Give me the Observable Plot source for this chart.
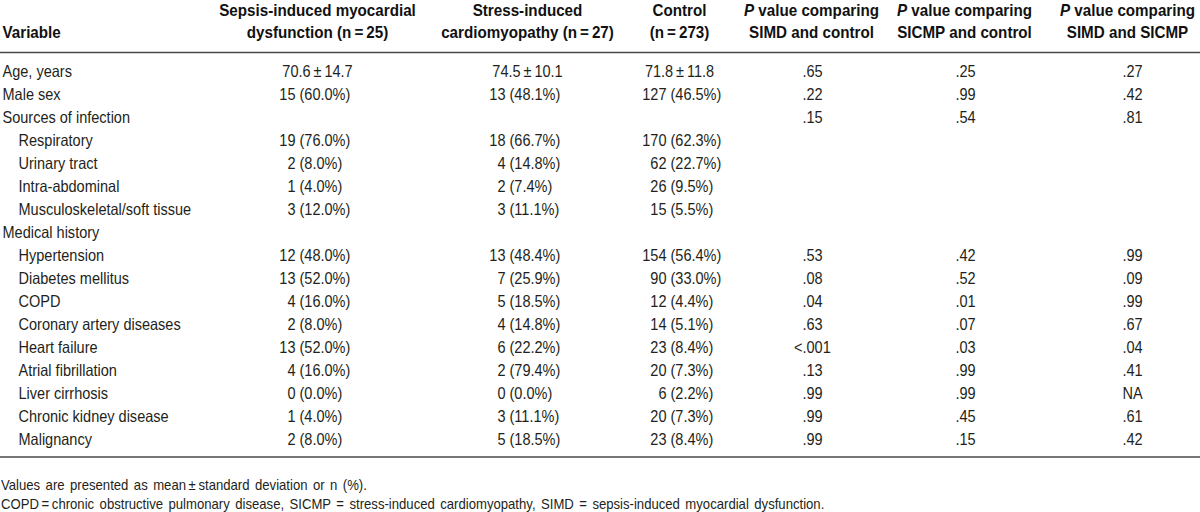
<!DOCTYPE html>
<html>
<head>
<meta charset="utf-8">
<script src="https://cdn.jsdelivr.net/npm/d3@7"></script>
<script src="https://cdn.jsdelivr.net/npm/@observablehq/plot@0.6"></script>
<style>
  html, body { margin: 0; padding: 0; background: #fff; }
  body { width: 1200px; height: 512px; overflow: hidden; }
  #chart svg { display: block; }
  .foot { font-family: "Liberation Sans", Arial, sans-serif; font-size: 14.5px; color: #231f20;
          margin-left: 1px; line-height: 19px; word-spacing: 2px; white-space: nowrap;
          transform: scaleX(0.905); transform-origin: 0 0; }
  #foot1 { margin-top: 4px; }
</style>
</head>
<body>
<div id="chart"></div>
<div class="foot" id="foot1"></div>
<div class="foot" id="foot2"></div>
<script>
// ---------- data ----------
const variables = ["Age, years", "Male sex", "Sources of infection", "Respiratory", "Urinary tract",
  "Intra-abdominal", "Musculoskeletal/soft tissue", "Medical history", "Hypertension",
  "Diabetes mellitus", "COPD", "Coronary artery diseases", "Heart failure", "Atrial fibrillation",
  "Liver cirrhosis", "Chronic kidney disease", "Malignancy"];
const indented = [0, 0, 0, 1, 1, 1, 1, 0, 1, 1, 1, 1, 1, 1, 1, 1, 1];
const simd = ["70.6\u2009±\u200914.7", "15 (60.0%)", "", "19 (76.0%)", "2 (8.0%)", "1 (4.0%)", "3 (12.0%)", "",
  "12 (48.0%)", "13 (52.0%)", "4 (16.0%)", "2 (8.0%)", "13 (52.0%)", "4 (16.0%)", "0 (0.0%)", "1 (4.0%)", "2 (8.0%)"];
const sicmp = ["74.5\u2009±\u200910.1", "13 (48.1%)", "", "18 (66.7%)", "4 (14.8%)", "2 (7.4%)", "3 (11.1%)", "",
  "13 (48.4%)", "7 (25.9%)", "5 (18.5%)", "4 (14.8%)", "6 (22.2%)", "2 (79.4%)", "0 (0.0%)", "3 (11.1%)", "5 (18.5%)"];
const control = ["71.8\u2009±\u200911.8", "127 (46.5%)", "", "170 (62.3%)", "62 (22.7%)", "26 (9.5%)", "15 (5.5%)", "",
  "154 (56.4%)", "90 (33.0%)", "12 (4.4%)", "14 (5.1%)", "23 (8.4%)", "20 (7.3%)", "6 (2.2%)", "20 (7.3%)", "23 (8.4%)"];
const pSimdControl = [".65", ".22", ".15", "", "", "", "", "", ".53", ".08", ".04", ".63", "<.001", ".13", ".99", ".99", ".99"];
const pSicmpControl = [".25", ".99", ".54", "", "", "", "", "", ".42", ".52", ".01", ".07", ".03", ".99", ".99", ".45", ".15"];
const pSimdSicmp = [".27", ".42", ".81", "", "", "", "", "", ".99", ".09", ".99", ".67", ".04", ".41", "NA", ".61", ".42"];
const headerLine1 = ["", "Sepsis-induced myocardial", "Stress-induced", "Control", "P value comparing", "P value comparing", "P value comparing"];
const headerLine2 = ["Variable", "dysfunction (n\u2009=\u200925)", "cardiomyopathy (n\u2009=\u200927)", "(n\u2009=\u2009273)",
  "SIMD and control", "SICMP and control", "SIMD and SICMP"];
const footnotes = ["Values are presented as mean\u2009±\u2009standard deviation or n (%).",
  "COPD\u2009=\u2009chronic obstructive pulmonary disease, SICMP = stress-induced cardiomyopathy, SIMD = sepsis-induced myocardial dysfunction."];

// ---------- layout (pixels) ----------
const columns = ["variable", "simd", "sicmp", "control", "p1", "p2", "p3"];
const layout = {
  variable: {left: 2, indent: 18},
  simd:    {center: 317, split: 295},
  sicmp:   {center: 527, split: 505},
  control: {center: 679, split: 666},
  p1:      {center: 811, split: 802},
  p2:      {center: 964, split: 955},
  p3:      {center: 1127, split: 1122}
};
const FONT = '"Liberation Sans", Arial, sans-serif';
const INK = "#231f20";
const FS = 16.5;
const SQUEEZE_BODY = 0.88, SQUEEZE_HEAD = 0.92;

// ---------- build cells ----------
const groupCols = {simd, sicmp, control};
const pCols = {p1: pSimdControl, p2: pSicmpControl, p3: pSimdSicmp};
const countCells = [], wholeCells = [], pCells = [];
variables.forEach((v, i) => {
  for (const [col, arr] of Object.entries(groupCols)) {
    const s = arr[i];
    if (!s) continue;
    const k = s.indexOf(" (");
    if (k >= 0) countCells.push({row: v, col, count: s.slice(0, k), pct: s.slice(k + 1)});
    else wholeCells.push({row: v, col, text: s});
  }
  for (const [col, arr] of Object.entries(pCols)) {
    const s = arr[i];
    if (!s) continue;
    const k = s.indexOf(".");
    if (k > 0) pCells.push({row: v, col, pre: s.slice(0, k), post: s.slice(k)});
    else pCells.push({row: v, col, pre: "", post: s});
  }
});
const labelRows = variables.map((v, i) => ({row: v, indent: indented[i]}));
const headers = columns.map((c, j) => ({col: c, l1: headerLine1[j], l2: headerLine2[j]}));
const dataHeaders = headers.filter(d => d.col !== "variable");
const varHeader = headers.filter(d => d.col === "variable");

const common = {fontSize: FS, fill: INK, lineAnchor: "middle"};
const head = {fontSize: FS, fill: "#111", fontWeight: "bold", lineAnchor: "middle", frameAnchor: "top"};

const plot = Plot.plot({
  width: 1200,
  height: 472,
  marginTop: 47,
  marginBottom: 10,
  marginLeft: 0,
  marginRight: 0,
  style: {fontFamily: FONT, fontSize: FS + "px", color: INK, background: "#fff", overflow: "visible"},
  x: {domain: [0, 1200], range: [0, 1200], axis: null},
  y: {type: "point", domain: variables, padding: 0.78, axis: null},
  marks: [
    Plot.ruleY([variables[0]], {y: d => d, dy: -19, stroke: "#4a4a4a", strokeWidth: 1.6}),
    Plot.ruleY([variables[variables.length - 1]], {y: d => d, dy: 17.5, stroke: "#4a4a4a", strokeWidth: 1.6}),
    // headers
    Plot.text(dataHeaders, {x: d => layout[d.col].center, dy: -37, text: "l1", textAnchor: "middle", ...head}),
    Plot.text(dataHeaders, {x: d => layout[d.col].center, dy: -14.5, text: "l2", textAnchor: "middle", ...head}),
    Plot.text(varHeader, {x: () => layout.variable.left, dy: -14.5, text: "l2", textAnchor: "start", ...head}),
    // row labels
    Plot.text(labelRows, {x: d => d.indent ? layout.variable.indent : layout.variable.left, y: "row",
      text: "row", textAnchor: "start", ...common}),
    // group values
    Plot.text(wholeCells, {x: d => layout[d.col].center, y: "row", text: "text", textAnchor: "middle", ...common}),
    Plot.text(countCells, {x: d => layout[d.col].split, y: "row", text: "count", textAnchor: "end", ...common}),
    Plot.text(countCells, {x: d => layout[d.col].split, dx: 4, y: "row", text: "pct", textAnchor: "start", ...common}),
    // p values
    Plot.text(pCells.filter(d => d.pre), {x: d => layout[d.col].split, y: "row", text: "pre", textAnchor: "end", ...common}),
    Plot.text(pCells, {x: d => layout[d.col].split, y: "row", text: "post", textAnchor: "start", ...common})
  ]
});
document.getElementById("chart").appendChild(plot);

// italic "P" in the p-value headers
const ns = "http://www.w3.org/2000/svg";
plot.querySelectorAll("text").forEach(t => {
  const s = t.textContent;
  if (s.startsWith("P value") && !t.querySelector("tspan")) {
    t.textContent = "";
    const it = document.createElementNS(ns, "tspan");
    it.setAttribute("font-style", "italic");
    it.textContent = "P";
    t.appendChild(it);
    t.appendChild(document.createTextNode(s.slice(1)));
  }
});

// condensed look: squeeze every text horizontally
plot.querySelectorAll("text").forEach(t => {
  const w = t.getComputedTextLength();
  if (!w) return;
  const g = t.closest("g");
  const bold = (g && g.getAttribute("font-weight") === "bold") || t.getAttribute("font-weight") === "bold";
  t.setAttribute("textLength", (w * (bold ? SQUEEZE_HEAD : SQUEEZE_BODY)).toFixed(2));
  t.setAttribute("lengthAdjust", "spacingAndGlyphs");
});

document.getElementById("foot1").textContent = footnotes[0];
document.getElementById("foot2").textContent = footnotes[1];
</script>
</body>
</html>
